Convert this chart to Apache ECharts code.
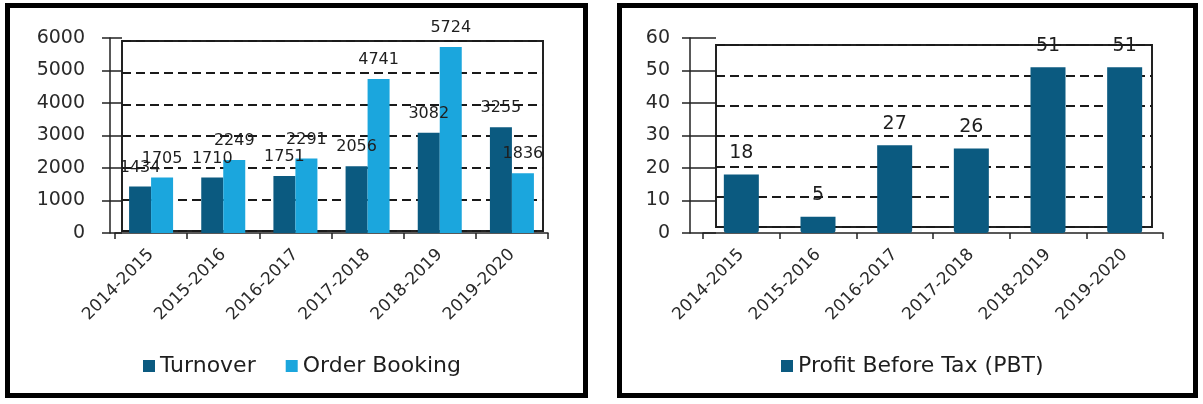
<!DOCTYPE html>
<html>
<head>
<meta charset="utf-8">
<script src="https://cdn.jsdelivr.net/npm/echarts@6/dist/echarts.min.js"></script>
<style>
  html, body { margin: 0; padding: 0; background: #ffffff; }
  #chart { width: 1203px; height: 404px; }
</style>
</head>
<body>
<div id="chart"></div>
<script>
// Financial years shown on both panels
const categories = ['2014-2015', '2015-2016', '2016-2017', '2017-2018', '2018-2019', '2019-2020'];

// Left panel: turnover and order booking
const turnover = [1434, 1710, 1751, 2056, 3082, 3255];
const orderBooking = [1705, 2249, 2291, 4741, 5724, 1836];

// Right panel: profit before tax
const profitBeforeTax = [18, 5, 27, 26, 51, 51];

// Value-axis ranges (ticks are generated from these)
const leftAxisMax = 6000, leftAxisStep = 1000;
const rightAxisMax = 60, rightAxisStep = 10;

const FONT = 'DejaVu Sans';
const TEXT = '#1e1e1e';
const DARK = '#0b5a80';
const LIGHT = '#1ba6dd';

// Back wall of a pseudo-3D chart: outlined box with dashed gridlines
function wallYAxis(gridIndex, max, step) {
  return {
    type: 'value', gridIndex, min: 0, max, interval: step, position: 'left',
    axisLine: { show: false }, axisTick: { show: false }, axisLabel: { show: false },
    splitLine: { show: true, lineStyle: { type: [9, 5], color: '#1a1a1a', width: 2 } }
  };
}
// Front value axis with labels and outward ticks
function frontYAxis(gridIndex, max, step, offset, margin) {
  return {
    type: 'value', gridIndex, min: 0, max, interval: step, offset, position: 'left',
    axisLine: { show: true, lineStyle: { color: '#222', width: 1.5 } },
    axisTick: { show: true, length: 8, lineStyle: { color: '#222', width: 1.5 } },
    axisLabel: { margin, fontFamily: FONT, fontSize: 19, color: '#2a2a2a', formatter: v => String(v) },
    splitLine: { show: false }
  };
}
// Side-wall lines joining the front axis to the back wall
function sideWallAxis(gridIndex, max, step, offset, len) {
  return {
    type: 'value', gridIndex, min: 0, max, interval: step, offset, position: 'left',
    axisLine: { show: false },
    axisTick: { show: true, inside: true, length: len, lineStyle: { color: '#222', width: 1.5 } },
    axisLabel: { show: false }, splitLine: { show: false }
  };
}
function hiddenX(gridIndex) {
  return { type: 'category', gridIndex, data: categories, show: false };
}
function frontXAxis(gridIndex) {
  return {
    type: 'category', gridIndex, data: categories, offset: 3,
    axisLine: { show: true, lineStyle: { color: '#222', width: 1.5 } },
    axisTick: { show: true, length: 6, lineStyle: { color: '#222', width: 1.5 } },
    axisLabel: { rotate: 45, margin: 16, fontFamily: FONT, fontSize: 17, color: '#2a2a2a', interval: 0 }
  };
}
function barLabel(size, dist) {
  return { show: true, position: 'top', distance: dist, fontFamily: FONT, fontSize: size, color: TEXT };
}

const option = {
  backgroundColor: '#ffffff',
  animation: false,
  graphic: [
    { type: 'rect', shape: { x: 7.5, y: 5.5, width: 578, height: 390 },
      style: { fill: 'none', stroke: '#000', lineWidth: 5 }, silent: true },
    { type: 'rect', shape: { x: 619.5, y: 5.5, width: 576, height: 390 },
      style: { fill: 'none', stroke: '#000', lineWidth: 5 }, silent: true }
  ],
  grid: [
    { left: 122, top: 41, width: 421, height: 190, show: true, borderColor: '#222', borderWidth: 2, backgroundColor: 'transparent' },
    { left: 115, top: 38, width: 433, height: 195 },
    { left: 716, top: 45, width: 436, height: 182, show: true, borderColor: '#222', borderWidth: 2, backgroundColor: 'transparent' },
    { left: 703, top: 38, width: 460, height: 195 }
  ],
  xAxis: [hiddenX(0), frontXAxis(1), hiddenX(2), frontXAxis(3)],
  yAxis: [
    wallYAxis(0, leftAxisMax, leftAxisStep),
    frontYAxis(1, leftAxisMax, leftAxisStep, 5, 25),
    sideWallAxis(1, leftAxisMax, leftAxisStep, 5, 12),
    wallYAxis(2, rightAxisMax, rightAxisStep),
    frontYAxis(3, rightAxisMax, rightAxisStep, 13, 20),
    sideWallAxis(3, rightAxisMax, rightAxisStep, 13, 26)
  ],
  legend: [
    { data: ['Turnover', 'Order Booking'], left: 143, top: 355, padding: 0,
      icon: 'rect', itemWidth: 12, itemHeight: 12, itemGap: 30,
      textStyle: { fontFamily: FONT, fontSize: 22, color: TEXT } },
    { data: ['Profit Before Tax (PBT)'], left: 781, top: 355, padding: 0,
      icon: 'rect', itemWidth: 12, itemHeight: 12,
      textStyle: { fontFamily: FONT, fontSize: 22, color: TEXT } }
  ],
  series: [
    { name: 'Turnover', type: 'bar', xAxisIndex: 1, yAxisIndex: 1, data: turnover,
      barWidth: 22, barGap: '0%', itemStyle: { color: DARK }, label: barLabel(16, 11) },
    { name: 'Order Booking', type: 'bar', xAxisIndex: 1, yAxisIndex: 1, data: orderBooking,
      barWidth: 22, barGap: '0%', itemStyle: { color: LIGHT }, label: barLabel(16, 11) },
    { name: 'Profit Before Tax (PBT)', type: 'bar', xAxisIndex: 3, yAxisIndex: 4, data: profitBeforeTax,
      barWidth: 35, itemStyle: { color: DARK, borderRadius: [0, 0, 3, 3] }, label: barLabel(19, 12) }
  ]
};

const chart = echarts.init(document.getElementById('chart'), null, { renderer: 'canvas' });
chart.setOption(option);
</script>
</body>
</html>
